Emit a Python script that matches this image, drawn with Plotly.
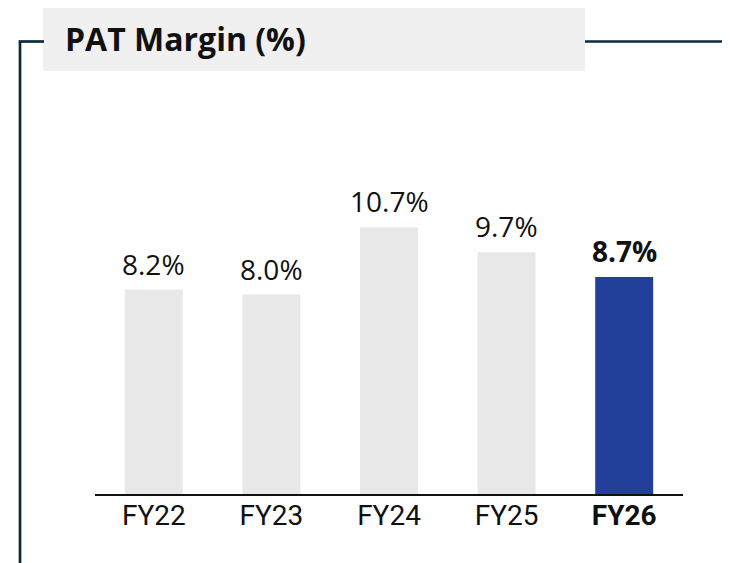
import plotly.graph_objects as go

W, H = 730, 563
OFF = 8  # page body margin the figure sits in
FW, FH = W - OFF, H - OFF
FONT = "Roboto, Arial, sans-serif"
TITLE_FONT = "'Open Sans', sans-serif"
NAVY = "#0e2a3a"
GREY_BAR = "#e8e8e8"
BLUE_BAR = "#22409a"
INK = "#111111"

years = ["FY22", "FY23", "FY24", "FY25", "FY26"]
pat_margin = [8.2, 8.0, 10.7, 9.7, 8.7]
tick_text = ["FY22", "FY23", "FY24", "FY25", "<b>FY26</b>"]
label_text = ["8.2%", "8.0%", "10.7%", "9.7%", "<b>8.7%</b>"]


def px_x(x):
    return (x - OFF) / FW


def px_y(y):
    return 1 - (y - OFF) / FH


colors = [GREY_BAR] * (len(years) - 1) + [BLUE_BAR]

fig = go.Figure()
fig.add_trace(go.Bar(
    x=years, y=pat_margin,
    marker=dict(color=colors, line=dict(width=0)),
    showlegend=False,
    hovertemplate="%{x}: %{y}%<extra></extra>",
))

# value labels above each bar
for yr, v, lab in zip(years, pat_margin, label_text):
    fig.add_annotation(x=yr, y=v, text=lab, showarrow=False,
                       yanchor="bottom", yshift=5,
                       font=dict(family=TITLE_FONT, size=28, color=INK))

# frame: left rule + top rule broken by the title box
fig.add_shape(type="line", xref="paper", yref="paper",
              x0=px_x(20), x1=px_x(20), y0=px_y(41.5), y1=0,
              line=dict(color=NAVY, width=2.7))
fig.add_shape(type="line", xref="paper", yref="paper",
              x0=px_x(18.7), x1=px_x(44), y0=px_y(41.5), y1=px_y(41.5),
              line=dict(color=NAVY, width=2.7))
fig.add_shape(type="line", xref="paper", yref="paper",
              x0=px_x(585), x1=1, y0=px_y(41.5), y1=px_y(41.5),
              line=dict(color=NAVY, width=2.7))
fig.add_shape(type="rect", xref="paper", yref="paper",
              x0=px_x(43), x1=px_x(585), y0=px_y(71), y1=px_y(8),
              fillcolor="#f0f0f0", line=dict(width=0), layer="below")
fig.add_annotation(text="<b>PAT Margin (%)</b>", xref="paper", yref="paper",
                   x=px_x(63), y=px_y(39), xanchor="left", yanchor="middle",
                   showarrow=False,
                   font=dict(family=TITLE_FONT, size=32, color=INK))

fig.update_layout(
    width=FW, height=FH,
    margin=dict(l=0, r=0, t=0, b=0),
    plot_bgcolor="#fff", paper_bgcolor="#fff",
    bargap=0.507,
    font=dict(family=FONT, color=INK),
    xaxis=dict(
        domain=[px_x(95), px_x(683)],
        range=[-0.5, 4.5],
        tickvals=years, ticktext=tick_text,
        tickfont=dict(family=FONT, size=28, color=INK),
        showline=True, linecolor=INK, linewidth=1.5,
        showgrid=False, ticks="", ticklabelstandoff=-4,
    ),
    yaxis=dict(
        domain=[px_y(494), px_y(110)],
        range=[0, 15.4],
        visible=False, showgrid=False, zeroline=False,
    ),
)

fig.write_html("out.html")
